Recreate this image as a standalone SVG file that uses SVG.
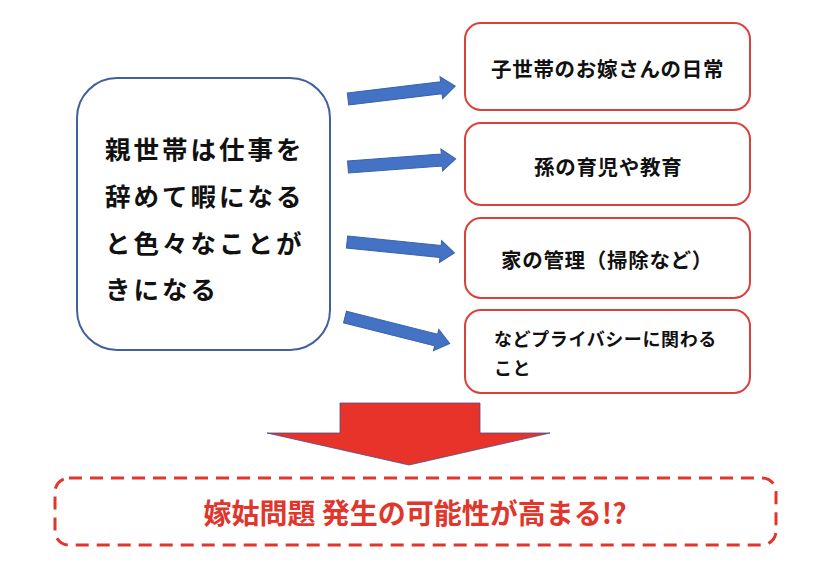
<svg xmlns="http://www.w3.org/2000/svg" xmlns:xlink="http://www.w3.org/1999/xlink" width="828" height="576" viewBox="0 0 828 576">
<style>
.jp{font-family:"Noto Sans CJK JP","Noto Sans CJK SC",sans-serif;font-weight:bold;fill:#111;dominant-baseline:central}
.main{font-size:25.5px;letter-spacing:3px}
.item{font-size:20.5px;letter-spacing:0.7px}
.small{font-size:18px;letter-spacing:0.6px}
.rbox{fill:#fff;stroke:#D9423A;stroke-width:2}
.barrow{fill:#4472C4;stroke:#3A62AE;stroke-width:1}
</style>
<defs>
<polygon id="ar" points="0,-6 94,-6 94,-11 108,0 94,11 94,6 0,6"/>
</defs>
<rect width="828" height="576" fill="#fff"/>
<g id="source">
<rect x="77" y="78" width="253" height="272" rx="40" ry="40" fill="#fff" stroke="#41609F" stroke-width="2"/>
<text class="jp main" x="105" y="147">親世帯は仕事を</text>
<text class="jp main" x="105" y="194">辞めて暇になる</text>
<text class="jp main" x="105" y="241">と色々なことが</text>
<text class="jp main" x="105" y="287">きになる</text>
</g>
<g id="item1">
<rect class="rbox" x="465" y="23" width="285" height="87" rx="16"/>
<text class="jp item" x="491" y="68">子世帯のお嫁さんの日常</text>
</g>
<g id="item2">
<rect class="rbox" x="465" y="123" width="285" height="82" rx="16"/>
<text class="jp item" x="534" y="166">孫の育児や教育</text>
</g>
<g id="item3">
<rect class="rbox" x="465" y="218" width="285" height="80" rx="16"/>
<text class="jp item" x="501" y="259">家の管理（掃除など）</text>
</g>
<g id="item4">
<rect class="rbox" x="465" y="310" width="285" height="83" rx="16"/>
<text class="jp small" x="494" y="338">などプライバシーに関わる</text>
<text class="jp small" x="494" y="367">こと</text>
</g>
<g id="connectors">
<use xlink:href="#ar" class="barrow" transform="translate(348,99) rotate(-6.9)"/>
<use xlink:href="#ar" class="barrow" transform="translate(348,167) rotate(-4.3)"/>
<use xlink:href="#ar" class="barrow" transform="translate(347,242) rotate(5.8)"/>
<use xlink:href="#ar" class="barrow" transform="translate(345,317) rotate(14.2)"/>
<polygon points="340,403 480,403 480,433 550,433 409,465 267,433 340,433" fill="#E8332A" stroke="#4A4E8A" stroke-width="0.8"/>
</g>
<g id="result">
<rect x="55" y="478" width="721" height="67" rx="14" fill="#fff" stroke="#E0362C" stroke-width="3" stroke-dasharray="13 8"/>
<text x="415" y="512" text-anchor="middle" font-family="Noto Sans CJK JP, sans-serif" font-weight="bold" font-size="28" fill="#E0362C" dominant-baseline="central">嫁姑問題 発生の可能性が高まる!?</text>
</g>
</svg>
